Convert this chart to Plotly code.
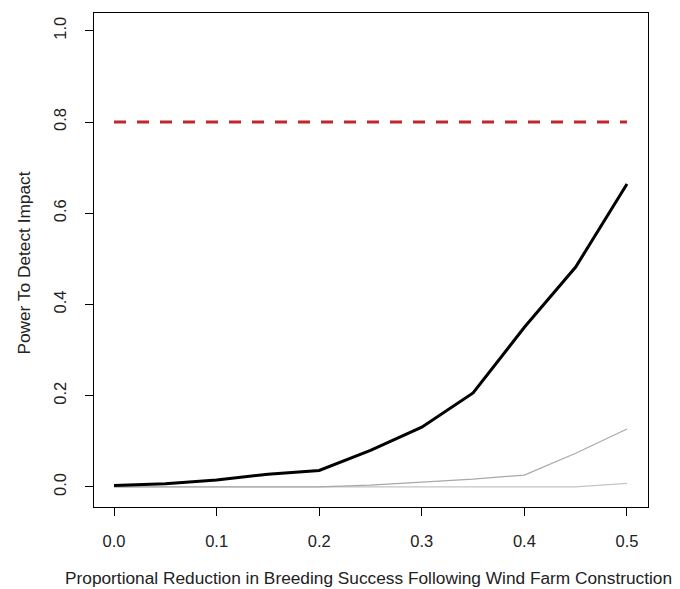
import plotly.graph_objects as go

reduction = [0.0, 0.05, 0.1, 0.15, 0.2, 0.25, 0.3, 0.35, 0.4, 0.45, 0.5]
power_main = [0.003, 0.007, 0.015, 0.028, 0.036, 0.080, 0.131, 0.206, 0.350, 0.482, 0.664]
power_mid = [0.0, 0.0, 0.0, 0.0, 0.0, 0.004, 0.011, 0.017, 0.026, 0.074, 0.127]
power_low = [0.0, 0.0, 0.0, 0.0, 0.0, 0.0, 0.0, 0.0, 0.0, 0.0, 0.008]
threshold = 0.8

x_ticks = [0.0, 0.1, 0.2, 0.3, 0.4, 0.5]
y_ticks = [0.0, 0.2, 0.4, 0.6, 0.8, 1.0]

font = "Liberation Sans, Arial, sans-serif"

fig = go.Figure()
fig.add_trace(go.Scatter(x=reduction, y=power_low, mode="lines",
                         line=dict(color="#c4c4c4", width=1.2), hoverinfo="skip"))
fig.add_trace(go.Scatter(x=reduction, y=power_mid, mode="lines",
                         line=dict(color="#a8a8a8", width=1.2), hoverinfo="skip"))
fig.add_trace(go.Scatter(x=reduction, y=power_main, mode="lines",
                         line=dict(color="black", width=3)))
fig.add_trace(go.Scatter(x=[reduction[0], reduction[-1]], y=[threshold, threshold], mode="lines",
                         line=dict(color="#c0262c", width=3.2, dash="12px,11px")))

fig.update_layout(
    width=672, height=581,
    margin=dict(l=86, r=32, t=5, b=82),
    plot_bgcolor="white", paper_bgcolor="white",
    showlegend=False,
    font=dict(family=font, size=17, color="#222"),
    xaxis=dict(range=[-0.0195, 0.5205], tickvals=x_ticks, ticktext=[f"{v:.1f}" for v in x_ticks],
               showgrid=False, zeroline=False, showline=True, mirror=True,
               linecolor="black", linewidth=1, ticks="outside", ticklen=8,
               tickcolor="black", ticklabelstandoff=11, tickfont=dict(size=16.5)),
    yaxis=dict(range=[-0.044, 1.039], tickvals=y_ticks, ticktext=[f"{v:.1f}" for v in y_ticks],
               showgrid=False, zeroline=False, showline=True, mirror=True,
               linecolor="black", linewidth=1, ticks="outside", ticklen=8,
               tickcolor="black", ticklabelstandoff=12, tickangle=-90, tickfont=dict(size=16.5)),
    annotations=[
        dict(text="Proportional Reduction in Breeding Success Following Wind Farm Construction",
             xref="paper", yref="paper", x=0.496, y=-0.1437, xanchor="center", yanchor="middle",
             showarrow=False, font=dict(size=17.3)),
        dict(text="Power To Detect Impact", xref="paper", yref="paper", x=-0.127, y=0.494,
             xanchor="center", yanchor="middle", textangle=-90, showarrow=False,
             font=dict(size=17.3)),
    ],
)

fig.write_html("out.html")
